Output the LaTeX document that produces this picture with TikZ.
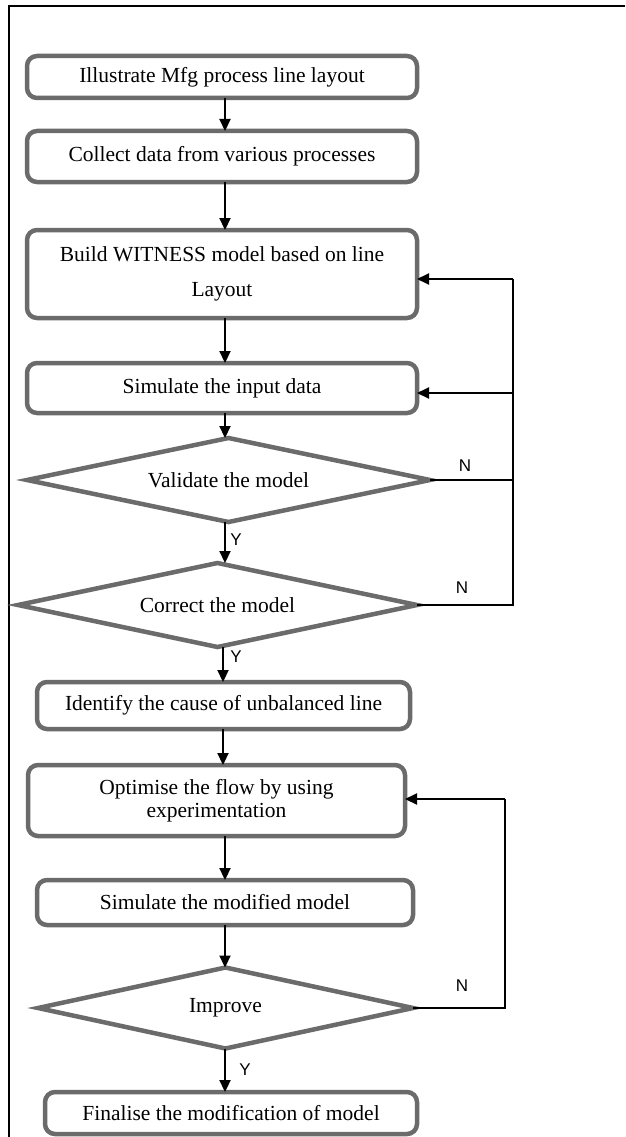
\documentclass[tikz,border=0pt]{standalone}
\usepackage{fontspec}
\setmainfont{Liberation Serif}
\newfontfamily\labfont{Liberation Sans}
\usetikzlibrary{shapes.geometric,arrows.meta}
\definecolor{boxgray}{HTML}{6B6B6B}
\begin{document}
\begin{tikzpicture}[x=1pt,y=-1pt,
  every node/.style={inner sep=0pt, outer sep=0pt},
  procbox/.style={draw=boxgray, line width=4.5pt, rounded corners=10pt, rectangle,
    align=center, font=\fontsize{21.5}{23}\selectfont, fill=white},
  decbox/.style={draw=boxgray, line width=4.5pt, diamond, aspect=4.8,
    align=center, font=\fontsize{21.5}{23}\selectfont, fill=white},
  flow/.style={line width=2.2pt, -{Triangle[length=12pt,width=11pt]}},
  back/.style={line width=2pt},
  yn/.style={font=\labfont\fontsize{17}{19}\selectfont}
]
\useasboundingbox (0,0) rectangle (625,1137);
% frame (top and left only)
\draw[line width=2pt] (625,6) -- (9,6) -- (9,1137);

\node[procbox, minimum width=390pt, minimum height=42pt] (b1) at (222,77) {Illustrate Mfg process line layout};
\node[procbox, minimum width=390pt, minimum height=51pt] (b2) at (222,156.5) {Collect data from various processes};
\node[procbox, minimum width=390pt, minimum height=88pt] (b3) at (222,274) {Build WITNESS model based on line\\[12pt]Layout};
\node[procbox, minimum width=390pt, minimum height=50pt] (b4) at (222,388) {Simulate the input data};
\node[decbox, minimum width=403pt, minimum height=84pt] (d1) at (228.5,480) {Validate the model};
\node[decbox, minimum width=399pt, minimum height=84pt] (d2) at (217.5,605) {Correct the model};
\node[procbox, minimum width=373pt, minimum height=47pt] (b5) at (223.5,705.5) {Identify the cause of unbalanced line};
\node[procbox, minimum width=377pt, minimum height=71pt] (b6) at (216.5,800.5) {Optimise the flow by using\\experimentation};
\node[procbox, minimum width=376pt, minimum height=45pt] (b7) at (225,902.5) {Simulate the modified model};
\node[decbox, minimum width=375pt, minimum height=81pt] (d3) at (225.5,1008) {Improve};
\node[procbox, minimum width=372pt, minimum height=42pt] (b8) at (231,1113) {Finalise the modification of model};

% main flow
\draw[flow] (b1.south -| 225,0) -- (b2.north -| 225,0);
\draw[flow] (b2.south -| 225,0) -- (b3.north -| 225,0);
\draw[flow] (b3.south -| 225,0) -- (b4.north -| 225,0);
\draw[flow] (b4.south -| 225,0) -- (d1.north -| 225,0);
\draw[flow] (d1.south -| 225,0) -- (d2.north -| 225,0);
\draw[flow] (d2.south -| 223,0) -- (b5.north -| 223,0);
\draw[flow] (b5.south -| 223,0) -- (b6.north -| 223,0);
\draw[flow] (b6.south -| 225,0) -- (b7.north -| 225,0);
\draw[flow] (b7.south -| 225,0) -- (d3.north -| 225,0);
\draw[flow] (d3.south -| 225,0) -- (b8.north -| 225,0);

% upper feedback loop
\coordinate (k3) at (513,279);
\coordinate (k4) at (513,393);
\draw[back] (d1.east) -- (d1.east -| k3);
\draw[back] (d2.east) -- (d2.east -| k3) -- (k3);
\draw[flow, line width=2pt] (k3) -- (k3 -| b3.east);
\draw[flow, line width=2pt] (k4) -- (k4 -| b4.east);

% lower feedback loop
\coordinate (k6) at (505,799);
\draw[back] (d3.east) -- (d3.east -| k6) -- (k6);
\draw[flow, line width=2pt] (k6) -- (k6 -| b6.east);

% labels
\node[yn] (n1) at (465,466) {N};
\node[yn] (n2) at (462,588) {N};
\node[yn] (n3) at (462,986) {N};
\node[yn] (y1) at (236,540) {Y};
\node[yn] (y2) at (236,657) {Y};
\node[yn] (y3) at (245,1070) {Y};
\end{tikzpicture}
\end{document}
